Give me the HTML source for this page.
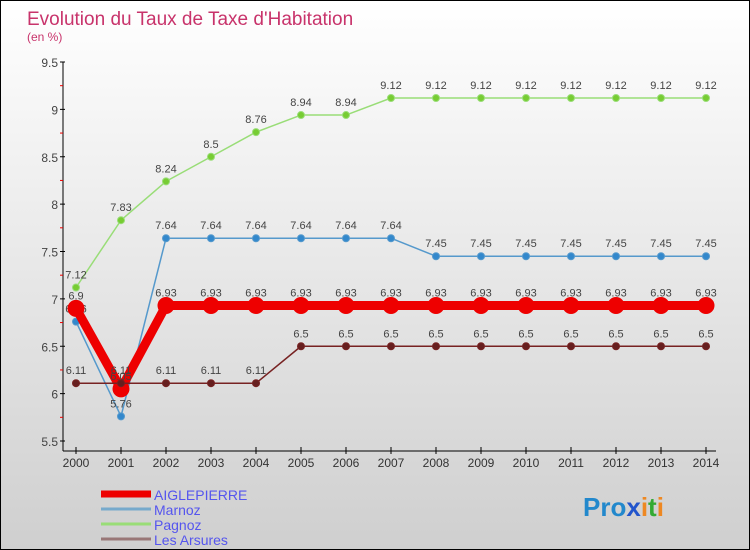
<!DOCTYPE html>
<html><head><meta charset="utf-8"><style>
body{margin:0}
#c{width:750px;height:550px;position:relative;overflow:hidden;background:linear-gradient(#ffffff,#cfcfcf);box-sizing:border-box;border:1px solid #000;font-family:"Liberation Sans",sans-serif}
</style></head><body>
<div id="c">
<svg id="s" width="750" height="550" style="position:absolute;left:0;top:0">
<text x="26" y="24" font-size="19" fill="#c8336b">Evolution du Taux de Taxe d'Habitation</text>
<text x="26" y="40" font-size="12" fill="#c8336b">(en %)</text>
</svg>
</div>
<script>
const years=[2000,2001,2002,2003,2004,2005,2006,2007,2008,2009,2010,2011,2012,2013,2014];
const yTicks=[5.5,6,6.5,7,7.5,8,8.5,9,9.5];
const aiglepierre=[6.9,6.05,6.93,6.93,6.93,6.93,6.93,6.93,6.93,6.93,6.93,6.93,6.93,6.93,6.93];
const marnoz=[6.76,5.76,7.64,7.64,7.64,7.64,7.64,7.64,7.45,7.45,7.45,7.45,7.45,7.45,7.45];
const pagnoz=[7.12,7.83,8.24,8.5,8.76,8.94,8.94,9.12,9.12,9.12,9.12,9.12,9.12,9.12,9.12];
const arsures=[6.11,6.11,6.11,6.11,6.11,6.5,6.5,6.5,6.5,6.5,6.5,6.5,6.5,6.5,6.5];
const names=["AIGLEPIERRE","Marnoz","Pagnoz","Les Arsures"];
const s=document.getElementById('s');const NS="http://www.w3.org/2000/svg";
function X(i){return 75+i*45;}
function Y(v){return 61+(9.5-v)*94.75;}
function el(t,a,p){const e=document.createElementNS(NS,t);for(const k in a)e.setAttribute(k,a[k]);(p||s).appendChild(e);return e;}
// axes
let ax=el('line',{x1:62,y1:61,x2:62,y2:450,stroke:'#000'});


let bx=el('line',{x1:62,y1:450,x2:715,y2:450,stroke:'#000'});


yTicks.forEach((v,i)=>{
 el('line',{x1:59,x2:64,y1:Y(v),y2:Y(v),stroke:'#000'});
 if(i<yTicks.length-1)el('line',{x1:59,x2:62,y1:Y(v+0.25),y2:Y(v+0.25),stroke:'#e00'});
 const t=el('text',{x:57,y:Y(v)+5,'text-anchor':'end','font-size':12,fill:'#444'});t.textContent=String(v);
 
 
});
years.forEach((y,i)=>{
 el('line',{x1:X(i),x2:X(i),y1:446,y2:453,stroke:'#000'});
 const t=el('text',{x:X(i),y:466,'text-anchor':'middle','font-size':12,fill:'#333'});t.textContent=y;
 
 
});
function series(d,col,w,r,dot,nm){
 const g=el('g',{});
 
 
 el('polyline',{points:d.map((v,i)=>X(i)+','+Y(v)).join(' '),fill:'none',stroke:col,'stroke-width':w,'stroke-linejoin':'round'},g);
 d.forEach((v,i)=>{
  const c=el('circle',{cx:X(i),cy:Y(v),r:r,fill:dot,stroke:col,'stroke-width':1},g);
  
  
  const t=el('text',{x:X(i),y:Y(v)-9,'text-anchor':'middle','font-size':11,fill:'#444'},g);t.textContent=String(v);
 });
}
series(pagnoz,'#99dd77',1.5,3.5,'#77cc33','pagnoz');
series(marnoz,'#5599cc',1.5,3.5,'#3388cc','marnoz');
series(aiglepierre,'#ee0000',9,8,'#ee0000','aiglepierre');
series(arsures,'#772222',1.5,3.5,'#661f1f','les-arsures');
// legend
const cols=['#ee0000','#77aacc','#99dd77','#997777'],ws=[7,3,3,3];
names.forEach((n,i)=>{
 const y=493+i*15;
 const l=el('line',{x1:100,x2:150,y1:y,y2:y,stroke:cols[i],'stroke-width':ws[i]});
 
 
 const t=el('text',{x:153,y:y+6,'font-size':14,fill:'#5555ee'});t.textContent=n;
 
 
});
const lg=el('text',{x:582,y:515,'font-size':26,'font-weight':'bold'});


[['Pro','#2288cc'],['x','#2255cc'],['i','#ee8822'],['t','#33aa33'],['i','#ee8822']].forEach(([t,c])=>{const sp=el('tspan',{fill:c},lg);sp.textContent=t;});
</script>
</body></html>
